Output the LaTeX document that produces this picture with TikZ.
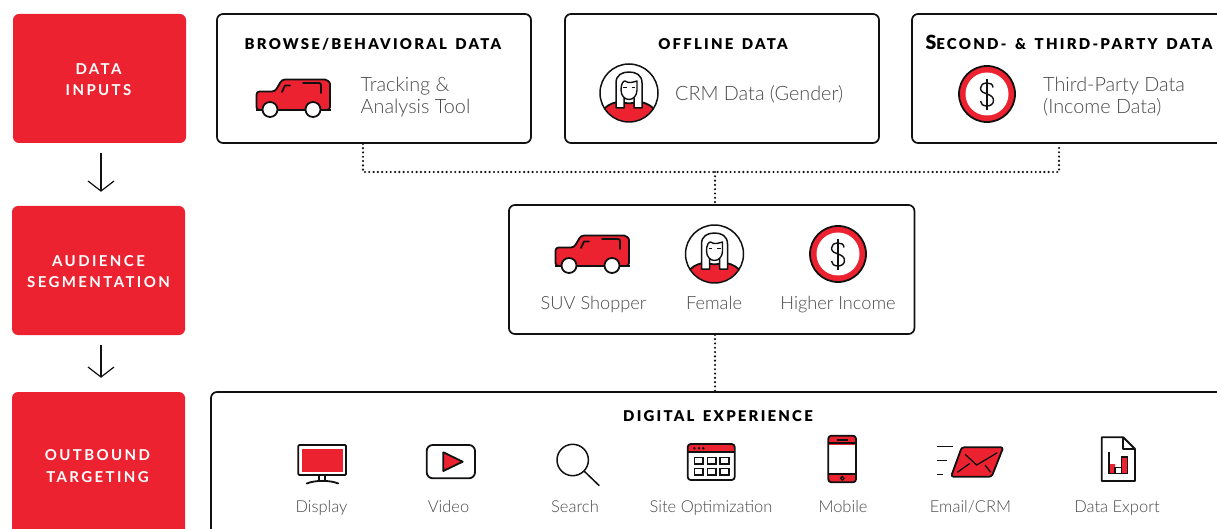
\documentclass[tikz,border=0pt]{standalone}
\usepackage{fontspec}
\setmainfont{Lato Light}
\newfontfamily\headfont[LetterSpace=15,WordSpace=1.5]{Lato Black}
\newfontfamily\redfont[LetterSpace=16]{Lato Bold}
\usetikzlibrary{arrows.meta,calc}
\definecolor{adobered}{HTML}{ED2230}
\definecolor{ink}{HTML}{111111}
\definecolor{soft}{HTML}{4A4A4C}
\tikzset{
  redbox/.style={draw=none,fill=adobered,rounded corners=6pt,minimum width=173pt,minimum height=129pt,inner sep=0pt},
  whitebox/.style={draw=ink,line width=1.7pt,fill=white,rounded corners=6pt,minimum width=314pt,minimum height=129pt,inner sep=0pt},
  redlabel/.style={text=white,font=\redfont\fontsize{15}{21.5}\selectfont,align=center,inner sep=0pt},
  headlabel/.style={text=black,font=\headfont\fontsize{14.9}{18}\selectfont,anchor=base,inner sep=0pt},
  bodylabel/.style={text=soft,font=\fontsize{19.8}{22}\selectfont,align=left,anchor=west,inner sep=0pt},
  smalllabel/.style={text=soft,font=\fontsize{18.2}{22}\selectfont,anchor=base,inner sep=0pt},
  tinylabel/.style={text=soft,font=\fontsize{16.5}{20}\selectfont,anchor=base,inner sep=0pt},
  flow/.style={ink,line width=1.2pt,-{Straight Barb[length=10pt,width=26pt,line width=1.2pt]},shorten <=10pt,shorten >=14pt},
  dotline/.style={ink,line width=2.4pt,line cap=round,dash pattern=on 0pt off 4.3pt},
  ic/.style={ink,line width=1.8pt,line join=round},
  caricon/.pic={
    \draw[ic,fill=adobered,rounded corners=3pt] (0.5,31) -- (0.5,12.5) -- (19,12.5) -- (26,0.5) -- (66,0.5) .. controls (71,0.5) and (74,3) .. (74,8) -- (74,31) -- cycle;
    \draw[ic] (0,31) -- (75,31);
    \draw[ic,line cap=round] (26,13) -- (29,6.5) -- (34,6.5);
    \draw[ic,line cap=round,rounded corners=2pt] (47,4) -- (65,4) -- (65,14);
    \draw[ic,fill=white] (14,30.5) circle (7.5);
    \draw[ic,fill=white] (57,30.5) circle (7.5);
  },
  personicon/.pic={
    \begin{scope}
      \clip (0,0) circle (28.5);
      \fill[white] (0,0) circle (29);
      \draw[ic,fill=adobered] (-30,32) -- (-24,15) .. controls (-20,11) and (-14,9) .. (-8,8.5) .. controls (-4,11) and (4,11) .. (8,8.5) .. controls (14,9) and (20,11) .. (24,15) -- (30,32) -- cycle;
    \end{scope}
    \fill[white] (-13,15) -- (-13,-10) .. controls (-13,-18) and (-7,-21) .. (0,-21) .. controls (7,-21) and (13,-18) .. (13,-10) -- (13,15) -- (5,15) -- (5,6) -- (-5,6) -- (-5,15) -- cycle;
    \draw[ic,line width=1.5pt] (-5,5) -- (-5,15) -- (-13,15) -- (-13,-10) .. controls (-13,-18) and (-7,-21) .. (0,-21) .. controls (7,-21) and (13,-18) .. (13,-10) -- (13,15) -- (5,15) -- (5,5);
    \draw[ic,line width=1.4pt] (-8,-3) .. controls (-8,-9) and (-6,-12) .. (-4,-12) .. controls (0,-9) and (4,-11) .. (8,-12) -- (8,-3) .. controls (8,3) and (4,6.5) .. (0,6.5) .. controls (-4,6.5) and (-8,3) .. (-8,-3) -- cycle;
    \draw[ic,line width=1.1pt] (-6,-5.5) -- (-2.5,-5.5) (2.5,-5.5) -- (6,-5.5);
    \draw[ic,line width=1.5pt] (0,0) circle (29);
  },
  dollaricon/.pic={
    \draw[ic,fill=adobered] (0,0) circle (28);
    \fill[white] (0,0) circle (21.5);
    \draw[ink,line width=1.4pt] (0,-15) -- (0,16);
    \draw[ink,line width=1.4pt] (6,-6.5) .. controls (6,-10) and (3,-11) .. (0,-11) .. controls (-4,-11) and (-6.5,-9) .. (-6.5,-6) .. controls (-6.5,-2) and (-3,-1) .. (0,0) .. controls (4,1.5) and (6.5,3) .. (6.5,6.5) .. controls (6.5,10) and (3.5,12) .. (0,12) .. controls (-4,12) and (-6.5,10) .. (-6.5,7);
  }
}
\begin{document}
\begin{tikzpicture}[x=1pt,y=-1pt]
\useasboundingbox (0,0) rectangle (1217,529);
\clip (0,0) rectangle (1217,529);
\fill[white] (0,0) rectangle (1217,529);
% red column
\node[redbox] (red1) at (99.5,78.5) {};
\node[redbox] (red2) at (98.5,270.5) {};
\node[redbox,minimum height=200pt] (red3) at (98.5,492) {};
\node[redlabel] at (98.5,79.5) {DATA\\INPUTS};
\node[redlabel] at (98.5,271.5) {AUDIENCE\\SEGMENTATION};
\node[redlabel] at (97.5,466) {OUTBOUND\\TARGETING};
% white boxes
\node[whitebox] (box1) at (374,78.5) {};
\node[whitebox] (box2) at (722,78.5) {};
\node[whitebox,minimum width=340pt] (box3) at (1082,78.5) {};
\node[whitebox,minimum width=405.5pt] (seg) at (711.7,269.5) {};
\node[whitebox,minimum width=1040pt,minimum height=220pt] (expbox) at (731,502) {};
% connectors
\coordinate (ax) at (101,0);
\draw[flow] (ax |- red1.south) -- (ax |- red2.north);
\draw[flow] (ax |- red2.south) -- (ax |- red3.north);
\coordinate (j1) at (363,172);
\coordinate (jm) at (715,172);
\coordinate (j3) at (1059,172);
\draw[dotline] (j1 |- box1.south) -- (j1) -- (j3) -- (j3 |- box3.south);
\draw[dotline] (jm) -- (jm |- seg.north);
\draw[dotline] (jm |- seg.south) -- (jm |- expbox.north);
% headings
\node[headlabel] (h1) at (373,49.5) {BROWSE/BEHAVIORAL DATA};
\node[headlabel] (h2) at (723,49.5) {OFFLINE DATA};
\node[headlabel,font=\headfont\fontsize{15}{18}\selectfont] (h3) at (1069,49.5) {{\fontsize{19.5}{18}\selectfont S}ECOND- \& THIRD-PARTY DATA};
\node[headlabel] (h4) at (718,421) {DIGITAL EXPERIENCE};
% top row
\pic at (256,79) {caricon};
\node[bodylabel] (t1) at (360.5,97) {Tracking \&\\Analysis Tool};
\pic at (629,93) {personicon};
\node[bodylabel] (t2) at (675,94) {CRM Data (Gender)};
\pic at (987,94) {dollaricon};
\node[bodylabel] (t3) at (1043,97) {Third-Party Data\\(Income Data)};
% segment
\pic at (555,235) {caricon};
\pic at (714.5,254) {personicon};
\pic at (838,254) {dollaricon};
\node[smalllabel] (s1) at (593.5,309) {SUV Shopper};
\node[smalllabel] (s2) at (714,309) {Female};
\node[smalllabel] (s3) at (838,309) {Higher Income};
% digital icons
\draw[ic,rounded corners=1pt] (298.3,445) rectangle (346,475);
\fill[adobered] (302,448.7) rectangle (343.3,471.7);
\draw[ic] (319.3,475) -- (319.3,480.5) (324.7,475) -- (324.7,480.5);
\draw[ic,line cap=round] (306.7,483.5) .. controls (315,480) and (330,480) .. (338.3,483.5);
\draw[ic,rounded corners=6pt] (426.7,445) rectangle (475,478.3);
\draw[ic,fill=adobered] (443.3,452.3) -- (462.7,461.7) -- (443.3,471) -- cycle;
\draw[ink,line width=1.5pt] (572.7,460) circle (15.7);
\draw[ink,line width=1.5pt] (584,471) -- (599.3,485.7);
\fill[adobered,rounded corners=2pt] (688,444.5) rectangle (734.5,452.3);
\draw[ic,rounded corners=3pt] (687.7,444) rectangle (734.7,480);
\draw[ic] (687.7,452.3) -- (734.7,452.3);
\fill[ink] (694.3,448.3) circle (1.4) (699,448.3) circle (1.4) (703.3,448.3) circle (1.4);
\foreach \cx in {694.3,707.3,720}{
  \draw[ink,line width=1.4pt] (\cx,457.3) rectangle ++(8.8,6.7);
  \draw[ink,line width=1.4pt] (\cx,468.3) rectangle ++(8.8,6.7);
}
\fill[adobered,rounded corners=2pt] (828.5,436) rectangle (856,444);
\fill[adobered] (828.5,442.3) rectangle (856,445);
\fill[adobered,rounded corners=2pt] (828.5,474.3) rectangle (856,482);
\draw[ic,rounded corners=3pt] (828.3,435.7) rectangle (856,482.3);
\draw[ic] (828.3,442.8) -- (856,442.8) (828.3,474.3) -- (856,474.3);
\draw[ink,line width=1.2pt] (836.7,440) -- (848.3,440);
\draw[ink,line width=1.2pt] (842.3,478.3) circle (1.8);
\draw[ic,fill=adobered,rounded corners=2.5pt] (961.7,447.3) -- (1003.3,447.3) -- (991.7,476.7) -- (951,476.7) -- cycle;
\draw[ink,line width=1.3pt] (965,454.3) -- (976.7,465) -- (997.3,452.7);
\draw[ink,line width=1.3pt] (957.3,472.3) -- (970,463.3) (990.7,472.3) -- (985,465);
\draw[ink,line width=1.3pt] (936.7,446.7) -- (952.7,446.7) (936.7,460.7) -- (946.7,460.7) (936.7,474.3) -- (943.3,474.3);
\draw[ic,fill=white] (1101.7,437.3) -- (1123.3,437.3) -- (1135,449) -- (1135,481) -- (1101.7,481) -- cycle;
\draw[ic] (1123.3,437.3) -- (1123.3,449) -- (1135,449);
\fill[adobered] (1109,464) rectangle (1115,473.3) (1121.3,457) rectangle (1127.3,473.3);
\draw[ink,line width=1.3pt] (1109,451.7) -- (1109,473.3) -- (1127.3,473.3) -- (1127.3,457) -- (1121.3,457) -- (1121.3,473.3) (1115,473.3) -- (1115,467.5) -- (1121.3,467.5);
\node[tinylabel] (d1) at (321.5,512.5) {Display};
\node[tinylabel] (d2) at (448.5,512.5) {Video};
\node[tinylabel] (d3) at (575,512.5) {Search};
\node[tinylabel] (d4) at (711,512.5) {Site Optimization};
\node[tinylabel] (d5) at (843,512.5) {Mobile};
\node[tinylabel] (d6) at (970.5,512.5) {Email/CRM};
\node[tinylabel] (d7) at (1117,512.5) {Data Export};
\end{tikzpicture}
\end{document}
